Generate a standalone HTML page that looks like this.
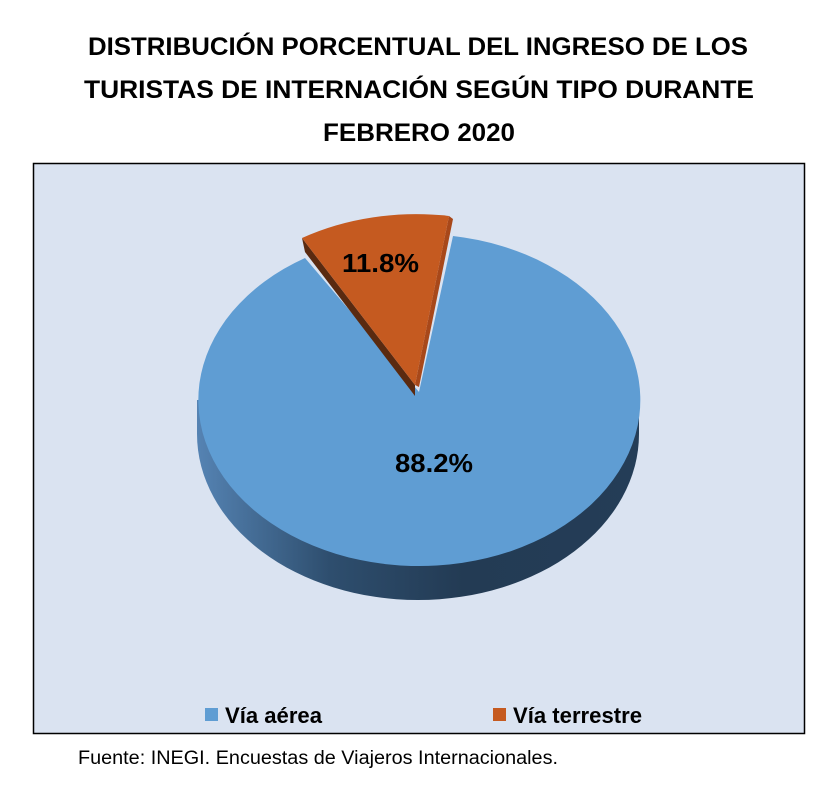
<!DOCTYPE html>
<html><head><meta charset="utf-8"><style>
html,body{margin:0;padding:0;background:#fff;width:836px;height:794px;overflow:hidden;font-family:"Liberation Sans",sans-serif}
</style></head><body>
<svg width="836" height="794" xmlns="http://www.w3.org/2000/svg">
<defs>
<linearGradient id="side" x1="197" y1="0" x2="640" y2="0" gradientUnits="userSpaceOnUse">
<stop offset="0" stop-color="#5583b3"/><stop offset="0.3" stop-color="#2e4e6e"/><stop offset="0.6" stop-color="#233b54"/><stop offset="1" stop-color="#243d57"/>
</linearGradient>
</defs>
<g font-family="Liberation Sans, sans-serif" font-weight="bold" font-size="25" fill="#000">
<text x="88" y="55" textLength="660" lengthAdjust="spacingAndGlyphs">DISTRIBUCIÓN PORCENTUAL DEL INGRESO DE LOS</text>
<text x="84" y="98" textLength="670" lengthAdjust="spacingAndGlyphs">TURISTAS DE INTERNACIÓN SEGÚN TIPO DURANTE</text>
<text x="323" y="141" textLength="192" lengthAdjust="spacingAndGlyphs">FEBRERO 2020</text>
</g>
<rect x="33.5" y="163.5" width="771" height="570" fill="#dae3f1" stroke="#000" stroke-width="1.5"/>
<path d="M197 400 L197 434 A221 166 0 0 0 639 434 L639 400 Z" fill="url(#side)"/>
<path d="M419 392 L453 236 A221 166 0 1 1 305 258 Z" fill="#5f9dd3"/>
<path d="M302 238 L415 385 L415 396 L305 252 Z" fill="#5a2a10"/>
<path d="M449 216 L415 385 L419 387 L453 219 Z" fill="#a8481a"/>
<path d="M415 385 L302 238 A221 166 0 0 1 449 216 Z" fill="#c55a20"/>
<g font-family="Liberation Sans, sans-serif" font-weight="bold" font-size="26" fill="#000">
<text x="342" y="272" textLength="77" lengthAdjust="spacingAndGlyphs">11.8%</text>
<text x="395" y="472" textLength="78" lengthAdjust="spacingAndGlyphs">88.2%</text>
</g>
<rect x="205" y="708" width="13" height="13" fill="#5f9dd3"/>
<rect x="493" y="708" width="13" height="13" fill="#c55a20"/>
<g font-family="Liberation Sans, sans-serif" font-weight="bold" font-size="22" fill="#000">
<text x="225" y="723" textLength="97" lengthAdjust="spacingAndGlyphs">Vía aérea</text>
<text x="513" y="723" textLength="129" lengthAdjust="spacingAndGlyphs">Vía terrestre</text>
</g>
<text x="78" y="764" font-family="Liberation Sans, sans-serif" font-size="19" fill="#000" textLength="480" lengthAdjust="spacingAndGlyphs">Fuente: INEGI. Encuestas de Viajeros Internacionales.</text>
</svg>
</body></html>
